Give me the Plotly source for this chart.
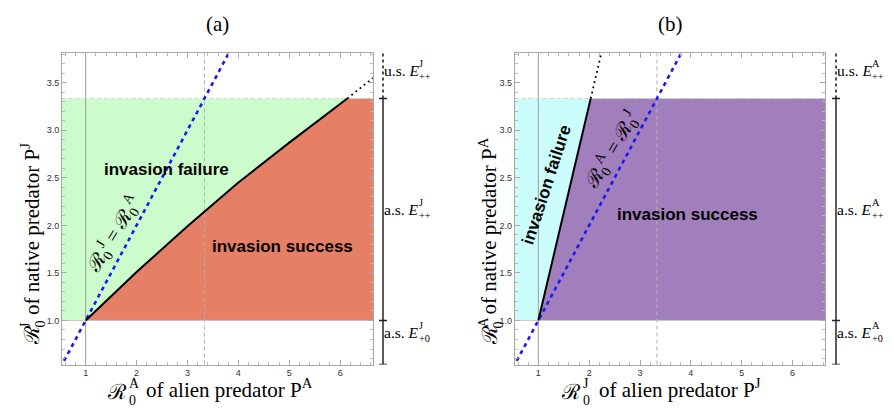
import plotly.graph_objects as go

W, H = 894, 408

# ---------------- data ----------------
threshold = 3.333                      # stability threshold of E++ (10/3)
x_range = [0.535, 6.645]
y_range = [0.537, 3.812]
x_tick_vals = [1, 2, 3, 4, 5, 6]
y_tick_vals = [1.0, 1.5, 2.0, 2.5, 3.0, 3.5]

# panel (a): invasion boundary, R0^J (native) vs R0^A (alien)
a_bound_x = [1.0, 2.0, 3.0, 4.0, 5.0, 6.0, 6.14]
a_bound_y = [1.0, 1.51, 1.99, 2.45, 2.87, 3.27, 3.333]
a_unstable_x = [6.14, 6.645]
a_unstable_y = [3.333, 3.55]

# panel (b): invasion boundary, R0^A (native) vs R0^J (alien)
b_bound_x = [1.0, 2.03]
b_bound_y = [1.0, 3.333]
b_unstable_x = [2.03, 2.24]
b_unstable_y = [3.333, 3.812]

# diagonal R0^J = R0^A
diag_vals = [0.5, 3.9]

panel_titles = ["(a)", "(b)"]
fail_colors = ["#ccfbcc", "#ccfdfd"]
success_colors = ["#e57f66", "#a17fbd"]
region_labels = ["invasion failure", "invasion success"]

# ---------------- helpers ----------------
def px(x):
    return x / W

def py(y):
    return 1 - y / H

SERIF = "Liberation Serif, DejaVu Serif, serif"
BOLD_SANS = "Liberation Sans, Arial, sans-serif"

fig = go.Figure()
annotations = []
shapes = []


def ann(text, x, y, size, family=SERIF, xanchor="center", yanchor="middle",
        angle=0, color="black"):
    annotations.append(dict(
        text=text, x=px(x), y=py(y), xref="paper", yref="paper",
        xanchor=xanchor, yanchor=yanchor, textangle=angle, showarrow=False,
        borderpad=0, font=dict(family=family, size=size, color=color)))


def stacked(base, sup, sub, x, y, size, ratio=0.66, gap=-2):
    ann(base, x, y, size, xanchor="right")
    ann(sup, x + gap, y - 0.40 * size, size * ratio, xanchor="left")
    ann(sub, x + gap, y + 0.42 * size, size * ratio, xanchor="left")


def panel(i, bx, by, ux, uy):
    xa = "x" if i == 0 else "x2"
    ya = "y" if i == 0 else "y2"
    x0, x1 = x_range
    y0, y1 = y_range
    # failure region (whole band between 1 and threshold)
    fig.add_trace(go.Scatter(
        x=[x0, x1, x1, x0], y=[1, 1, threshold, threshold],
        fill="toself", fillcolor=fail_colors[i], mode="lines",
        line=dict(width=0), xaxis=xa, yaxis=ya, hoverinfo="skip"))
    # success region (below / right of the boundary)
    fig.add_trace(go.Scatter(
        x=bx + [x1, x1], y=by + [threshold, 1],
        fill="toself", fillcolor=success_colors[i], mode="lines",
        line=dict(width=0), xaxis=xa, yaxis=ya, hoverinfo="skip"))
    # reference lines
    fig.add_trace(go.Scatter(x=[1, 1], y=y_range, mode="lines",
                             line=dict(color="#9a9a9a", width=1),
                             xaxis=xa, yaxis=ya, hoverinfo="skip"))
    fig.add_trace(go.Scatter(x=x_range, y=[1, 1], mode="lines",
                             line=dict(color="#c8c8c8", width=1),
                             xaxis=xa, yaxis=ya, hoverinfo="skip"))
    fig.add_trace(go.Scatter(x=[threshold, threshold], y=y_range, mode="lines",
                             line=dict(color="#b0b0b0", width=1, dash="4px,3px"),
                             xaxis=xa, yaxis=ya, hoverinfo="skip"))
    fig.add_trace(go.Scatter(x=x_range, y=[threshold, threshold], mode="lines",
                             line=dict(color="#c8dcc8", width=1, dash="4px,3px"),
                             xaxis=xa, yaxis=ya, hoverinfo="skip"))
    # diagonal
    fig.add_trace(go.Scatter(x=diag_vals, y=diag_vals, mode="lines",
                             line=dict(color="#1b1bf0", width=2.6, dash="4px,4px"),
                             xaxis=xa, yaxis=ya, hoverinfo="skip"))
    # boundary
    fig.add_trace(go.Scatter(x=bx, y=by, mode="lines",
                             line=dict(color="black", width=2),
                             xaxis=xa, yaxis=ya, hoverinfo="skip"))
    fig.add_trace(go.Scatter(x=ux, y=uy, mode="lines",
                             line=dict(color="black", width=1.8, dash="1.8px,3.5px"),
                             xaxis=xa, yaxis=ya, hoverinfo="skip"))
    # right-hand bracket
    xb = [375, 828][i]
    xpb = px(xb)
    cap = 4 / W
    shapes.append(dict(type="line", xref="paper", yref=ya, x0=xpb, x1=xpb,
                       y0=threshold, y1=y1, line=dict(color="#222", width=1.6, dash="dot")))
    shapes.append(dict(type="line", xref="paper", yref=ya, x0=xpb, x1=xpb,
                       y0=y0, y1=threshold, line=dict(color="#333", width=1.6)))
    for yv in (threshold, 1, y0):
        shapes.append(dict(type="line", xref="paper", yref=ya, x0=xpb - cap,
                           x1=xpb + cap, y0=yv, y1=yv,
                           line=dict(color="#222", width=1.6)))


panel(0, a_bound_x, a_bound_y, a_unstable_x, a_unstable_y)
panel(1, b_bound_x, b_bound_y, b_unstable_x, b_unstable_y)

# ---------------- axes ----------------
y_dom = [(H - 356.5) / H, (H - 45) / H]
x_doms = [[54 / W, 365 / W], [506.7 / W, 817.3 / W]]

def xaxis(dom, anchor):
    return dict(domain=dom, range=x_range, anchor=anchor, tickmode="array",
                tickvals=x_tick_vals, showgrid=False, zeroline=False,
                showline=True, linecolor="#a8a8a8", linewidth=1, mirror="ticks",
                ticks="inside", ticklen=5, tickcolor="#a8a8a8",
                minor=dict(tickmode="linear", tick0=0, dtick=0.2, ticks="inside",
                           ticklen=3, tickcolor="#b8b8b8", showgrid=False),
                tickfont=dict(family="Liberation Sans, Arial, sans-serif",
                              size=9, color="#333"))

def yaxis(anchor):
    return dict(domain=y_dom, range=y_range, anchor=anchor, tickmode="array",
                tickvals=y_tick_vals, ticktext=[f"{v:.1f}" for v in y_tick_vals],
                showgrid=False, zeroline=False, showline=True,
                linecolor="#a8a8a8", linewidth=1, mirror="ticks",
                ticks="inside", ticklen=5, tickcolor="#a8a8a8",
                minor=dict(tickmode="linear", tick0=0, dtick=0.1, ticks="inside",
                           ticklen=3, tickcolor="#b8b8b8", showgrid=False),
                tickfont=dict(family="Liberation Sans, Arial, sans-serif",
                              size=9, color="#333"))

# ---------------- texts ----------------
for i, off in enumerate([0, 453]):
    ann(panel_titles[i], 209 + off, 16, 21)

# x titles
stacked("ℛ", "A", "0", 120, 384, 21, gap=0)
ann("of alien predator P<sup>A</sup>", 137, 380, 21, xanchor="left")
stacked("ℛ", "J", "0", 574, 384, 21, gap=0)
ann("of alien predator P<sup>J</sup>", 590, 380, 21, xanchor="left")

# y titles (rotated)
for xc, sup, rest in [(24, "J", "of native predator P<sup>J</sup>"),
                      (482, "A", "of native predator P<sup>A</sup>")]:
    ann("ℛ", xc, 338, 21, yanchor="bottom", angle=-90)
    ann(sup, xc - 7, 321, 14, yanchor="bottom", angle=-90)
    ann("0", xc + 8, 321, 14, yanchor="bottom", angle=-90)
    ann(rest, xc - 2, 308, 21, yanchor="bottom", angle=-90)

# bracket labels
for xl, sup in [(412, "J"), (865, "A")]:
    stacked("u.s. <i>E</i>", sup, "++", xl, 62, 15.5)
    stacked("a.s. <i>E</i>", sup, "++", xl, 201, 15.5)
    stacked("a.s. <i>E</i>", sup, "+0", xl, 324, 15.5)

# region labels
ann("<b>invasion failure</b>", 158, 162, 17, family=BOLD_SANS)
ann("<b>invasion success</b>", 274, 238, 17, family=BOLD_SANS)
ann("<b>invasion failure</b>", 538, 177, 17, family=BOLD_SANS, angle=-72)
ann("<b>invasion success</b>", 679, 206, 17, family=BOLD_SANS)

# diagonal labels
ann("ℛ<sub>0</sub><sup>J</sup> = ℛ<sub>0</sub><sup>A</sup>", 106, 226, 20, angle=-59)
ann("ℛ<sub>0</sub><sup>A</sup> = ℛ<sub>0</sub><sup>J</sup>", 604, 142, 20, angle=-59)

fig.update_layout(
    width=W, height=H, margin=dict(l=0, r=0, t=0, b=0),
    paper_bgcolor="white", plot_bgcolor="white", showlegend=False,
    xaxis=xaxis(x_doms[0], "y"), yaxis=yaxis("x"),
    xaxis2=xaxis(x_doms[1], "y2"), yaxis2=yaxis("x2"),
    annotations=annotations, shapes=shapes,
)

fig.write_html("out.html")
